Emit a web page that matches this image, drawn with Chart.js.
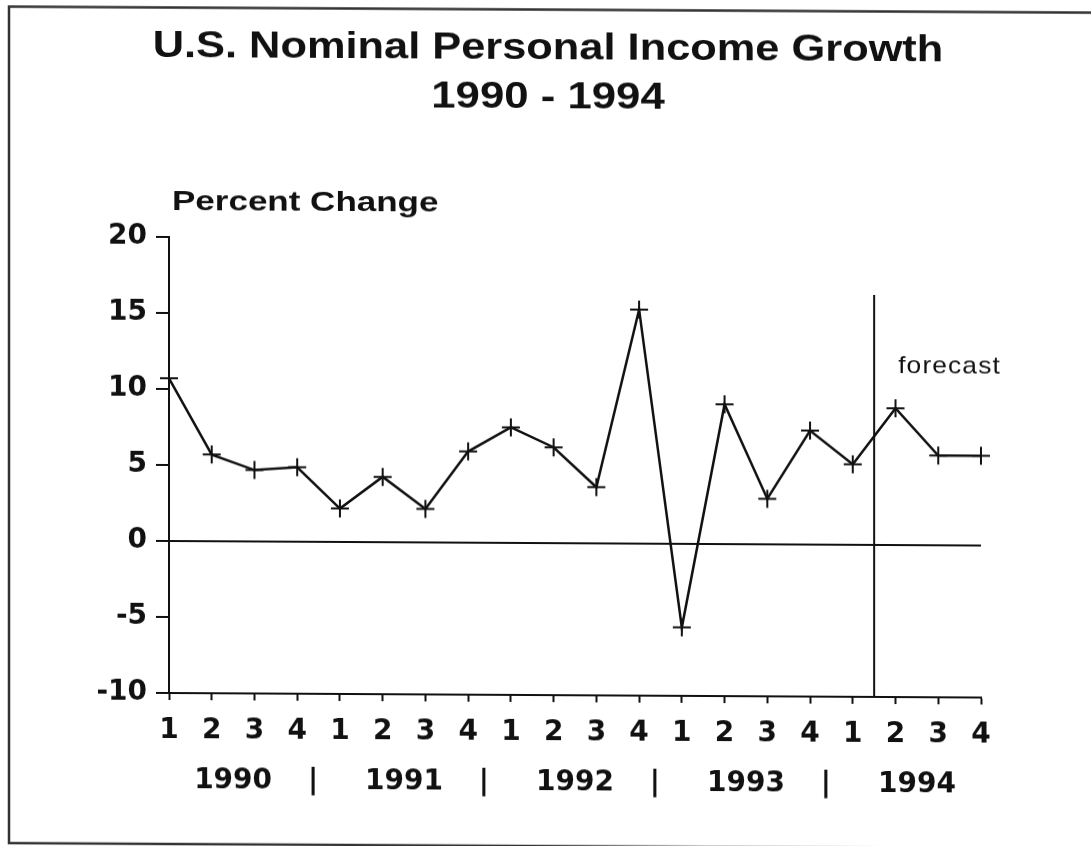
<!DOCTYPE html>
<html>
<head>
<meta charset="utf-8">
<script src="https://cdn.jsdelivr.net/npm/chart.js@4/dist/chart.umd.min.js"></script>
<style>
  html, body { margin: 0; padding: 0; background: #fff; overflow: hidden; }
  #wrap { position: absolute; left: 0; top: 0; width: 1091px; height: 846px; }
  #c { display: block; transform-origin: 169px 0; transform: skewY(0.32deg); }
</style>
</head>
<body>
<div id="wrap"><canvas id="c" width="1091" height="846"></canvas></div>
<script>
// ---- data ----
const titleLines = ['U.S. Nominal Personal Income Growth', '1990 - 1994'];
const yAxisTitle = 'Percent Change';
const quarters = ['1','2','3','4','1','2','3','4','1','2','3','4','1','2','3','4','1','2','3','4'];
const years = ['1990', '1991', '1992', '1993', '1994'];
const growth = [10.7, 5.7, 4.7, 4.9, 2.2, 4.3, 2.2, 6.0, 7.6, 6.3, 3.7, 15.4, -5.5, 9.2, 3.0, 7.5, 5.3, 9.0, 5.9, 5.9];
const yMin = -10, yMax = 20, yStep = 5;
const forecastStartIndex = 16; // forecast line drawn between 1994 Q1 and Q2
const forecastLabel = 'forecast';

const FONT = "'DejaVu Sans', 'Liberation Sans', sans-serif";
const HFONT = "'Liberation Sans', Arial, sans-serif";

function drawStretched(ctx, text, x, y, align, sx) {
  ctx.save();
  ctx.translate(x, y);
  ctx.scale(sx, 1);
  ctx.textAlign = align;
  ctx.textBaseline = 'alphabetic';
  ctx.fillText(text, 0, 0);
  ctx.restore();
}

const decor = {
  id: 'decor',
  beforeDraw(chart) {
    const ctx = chart.ctx;
    ctx.save();
    ctx.fillStyle = '#fff';
    ctx.fillRect(0, 0, chart.width, chart.height);
    ctx.restore();
  },
  afterDraw(chart) {
    const ctx = chart.ctx;
    const xs = chart.scales.x, ys = chart.scales.y;
    const area = chart.chartArea;
    ctx.save();
    // frame
    ctx.strokeStyle = '#333';
    ctx.lineWidth = 2.5;
    ctx.beginPath();
    ctx.moveTo(1091, 7.5);
    ctx.lineTo(9, 7.5);
    ctx.lineTo(9, 844);
    ctx.lineTo(1091, 844);
    ctx.stroke();

    // titles
    ctx.fillStyle = '#111';
    ctx.font = 'bold 36px ' + HFONT;
    drawStretched(ctx, titleLines[0], 548, 57, 'center', 1.205);
    drawStretched(ctx, titleLines[1], 548, 106, 'center', 1.215);

    ctx.font = 'bold 28px ' + HFONT;
    drawStretched(ctx, yAxisTitle, 172, 210, 'left', 1.25);

    // forecast divider
    const fx = (xs.getPixelForValue(forecastStartIndex) + xs.getPixelForValue(forecastStartIndex + 1)) / 2;
    ctx.strokeStyle = '#111';
    ctx.lineWidth = 2;
    ctx.beginPath();
    ctx.moveTo(fx, ys.getPixelForValue(16.45));
    ctx.lineTo(fx, area.bottom);
    ctx.stroke();
    ctx.font = '24px ' + HFONT;
    ctx.letterSpacing = '1px';
    drawStretched(ctx, forecastLabel, fx + 24, 369, 'left', 1.1);
    ctx.letterSpacing = '0px';

    // year labels and separators
    ctx.font = 'bold 28px ' + FONT;
    ctx.textAlign = 'center';
    years.forEach((yr, k) => {
      const a = xs.getPixelForValue(4 * k), b = xs.getPixelForValue(4 * k + 3);
      ctx.fillText(yr, (a + b) / 2, 788);
      if (k < years.length - 1) {
        const n = xs.getPixelForValue(4 * k + 4);
        ctx.fillText('|', b + (n - b) * 0.37, 788);
      }
    });
    ctx.restore();
  }
};

new Chart(document.getElementById('c'), {
  type: 'line',
  data: {
    labels: quarters,
    datasets: [{
      data: growth,
      borderColor: '#111',
      borderWidth: 2.5,
      tension: 0,
      fill: false,
      pointStyle: 'cross',
      pointRadius: 9,
      pointBorderWidth: 2,
      pointBorderColor: '#111',
      pointBackgroundColor: '#111',
      clip: false
    }]
  },
  options: {
    responsive: false,
    animation: false,
    events: [],
    layout: { padding: { left: 0, top: 237, right: 110, bottom: 33 } },
    plugins: { legend: { display: false }, title: { display: false }, tooltip: { enabled: false } },
    scales: {
      x: {
        type: 'category',
        offset: false,
        ticks: { color: '#111', autoSkip: false, maxRotation: 0, padding: 14,
                 font: { family: FONT, weight: 'bold', size: 28 } },
        grid: { drawOnChartArea: false, tickLength: 7, tickWidth: 2, tickColor: '#111' },
        border: { display: true, color: '#111', width: 2 },
        afterFit: s => { s.height = 120; }
      },
      y: {
        min: yMin, max: yMax,
        ticks: { stepSize: yStep, color: '#111', padding: 9,
                 font: { family: FONT, weight: 'bold', size: 28 } },
        grid: {
          drawOnChartArea: true,
          color: c => (c.tick && c.tick.value === 0) ? '#111' : 'rgba(0,0,0,0)',
          lineWidth: 2, tickLength: 13, tickWidth: 2, tickColor: '#111'
        },
        border: { display: true, color: '#111', width: 2 },
        afterFit: s => { s.width = 169; }
      }
    }
  },
  plugins: [decor]
});
</script>
</body>
</html>
